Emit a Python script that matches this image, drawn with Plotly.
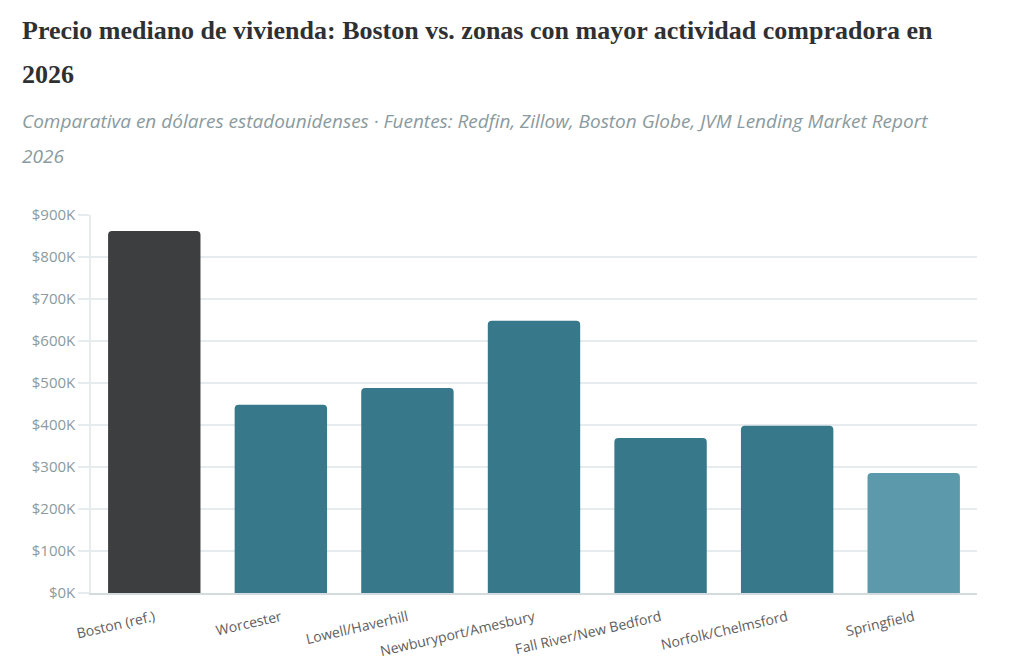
import plotly.graph_objects as go

categories = ["Boston (ref.)", "Worcester", "Lowell/Haverhill", "Newburyport/Amesbury",
              "Fall River/New Bedford", "Norfolk/Chelmsford", "Springfield"]
prices = [862000, 448000, 488000, 648000, 369000, 398000, 286000]
bar_colors = ["#3d3e40", "#37788a", "#37788a", "#37788a", "#37788a", "#37788a", "#5c9aab"]
tick_vals = [0, 100000, 200000, 300000, 400000, 500000, 600000, 700000, 800000, 900000]
tick_text = ["$0K", "$100K", "$200K", "$300K", "$400K", "$500K", "$600K", "$700K", "$800K", "$900K"]

title_lines = ["Precio mediano de vivienda: Boston vs. zonas con mayor actividad compradora en", "2026"]
subtitle_lines = ["Comparativa en dólares estadounidenses · Fuentes: Redfin, Zillow, Boston Globe, JVM Lending Market Report", "2026"]

W, H = 1024, 672
OFF = 8  # page body margin
ml, mr, mt, mb = 91 - OFF, 47 + OFF, 215 - OFF, 79 + OFF

fig = go.Figure(go.Bar(
    x=categories, y=prices,
    marker=dict(color=bar_colors, line=dict(width=0)),
    hovertemplate="%{x}: $%{y:,.0f}<extra></extra>",
))

def px(xpix):
    return (xpix - OFF - ml) / (W - ml - mr)

def py(ypix):
    return (H - mb - (ypix - OFF)) / (H - mt - mb)

annotations = []
for line, yp in zip(title_lines, [30, 75]):
    annotations.append(dict(text="<b>" + line + "</b>", x=px(20), y=py(yp),
                            xref="paper", yref="paper", xanchor="left", yanchor="middle",
                            showarrow=False,
                            font=dict(family="Liberation Serif, DejaVu Serif, serif", size=26, color="#2f3032")))
for line, yp in zip(subtitle_lines, [121, 156]):
    annotations.append(dict(text="<i>" + line + "</i>", x=px(20), y=py(yp),
                            xref="paper", yref="paper", xanchor="left", yanchor="middle",
                            showarrow=False,
                            font=dict(family="Open Sans, Lato, sans-serif", size=19, color="#8a9a9e")))

fig.update_layout(
    width=W, height=H,
    margin=dict(l=ml, r=mr, t=mt, b=mb, autoexpand=False),
    paper_bgcolor="white", plot_bgcolor="white",
    bargap=0.27, barcornerradius=4,
    showlegend=False,
    annotations=annotations,
    xaxis=dict(
        tickangle=-13, tickfont=dict(family="Open Sans, Lato, sans-serif", size=14, color="#5e5e5e"),
        showline=True, linecolor="#d3dbde", linewidth=2, showgrid=False,
        ticks="outside", ticklen=9, tickcolor="rgba(0,0,0,0)",
        fixedrange=True,
    ),
    yaxis=dict(
        range=[0, 900000], tickvals=tick_vals, ticktext=tick_text,
        tickfont=dict(family="Open Sans, Lato, sans-serif", size=15, color="#8a9a9e"),
        showgrid=True, gridcolor="#e6ecee", gridwidth=1.5,
        ticks="outside", ticklen=11, tickcolor="#e6ecee", tickwidth=1.5,
        showline=True, linecolor="#e6ecee", linewidth=1.5,
        zeroline=False, fixedrange=True,
    ),
)

fig.write_html("out.html")
